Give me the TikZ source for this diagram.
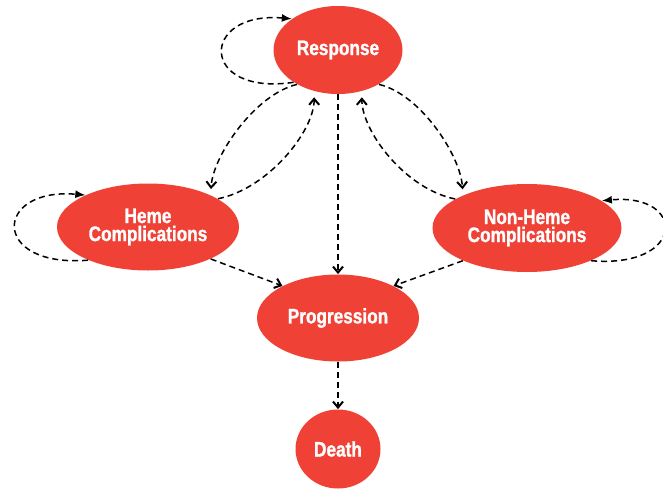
\documentclass[tikz,border=0pt]{standalone}
\usepackage{fontspec}
\usetikzlibrary{arrows.meta, shapes.geometric}
\newfontfamily\statefont[FakeStretch=0.82, BoldFeatures={FakeBold=1.2}]{Liberation Sans}
\definecolor{statered}{HTML}{EF4136}
\tikzset{
  state/.style={ellipse, fill=statered, text=white, inner sep=0pt, align=center,
                font=\statefont\bfseries\fontsize{10.5}{9}\selectfont},
  arr/.style={-{Straight Barb[length=3pt, width=5pt, line width=1pt]},
              line width=0.75pt, dash pattern=on 3pt off 2pt},
  selfarr/.style={-{Latex[length=5pt, width=4pt]},
                  line width=0.75pt, dash pattern=on 3pt off 2pt},
}

\begin{document}
\begin{tikzpicture}[x=0.5pt, y=0.5pt]
  \useasboundingbox (0,0) rectangle (663,489);

  \node[state, minimum width=64.5pt, minimum height=44pt] (resp) at (338,439) {Response};
  \node[state, minimum width=91pt, minimum height=43.5pt] (heme) at (148,262) {Heme\\Complications};
  \node[state, minimum width=94.5pt, minimum height=44pt] (nonheme) at (527,261) {Non-Heme\\Complications};
  \node[state, minimum width=81pt, minimum height=43.5pt] (prog) at (338,171) {Progression};
  \node[state, minimum width=42.5pt, minimum height=39.5pt] (death) at (338,40) {Death};

  % self loops
  \draw[selfarr] (resp.216) .. controls +(-95,-14) and +(-92,8) .. (resp.146);
  \draw[selfarr] (heme.209) .. controls +(-98,-8) and +(-92,8) .. (heme.153);
  \draw[selfarr] (nonheme.333) .. controls +(95,-8) and +(85,8) .. (nonheme.20);

  % transitions
  \draw[arr, shorten >=3pt] (resp.220) .. controls +(-42,-10) and +(2,39) .. (heme.27);
  \draw[arr, shorten >=3pt] (heme.22) .. controls +(50,10) and +(0,-40) .. (resp.240);
  \draw[arr, shorten >=3pt] (resp.320) .. controls +(42,-10) and +(-2,39) .. (nonheme.153);
  \draw[arr, shorten >=3pt] (nonheme.158) .. controls +(-50,10) and +(0,-40) .. (resp.300);
  \draw[arr] (resp.south) -- (prog.north);
  \draw[arr] (heme.333) -- (prog.150);
  \draw[arr] (nonheme.207) -- (prog.30);
  \draw[arr] (prog.south) -- (death.north);
\end{tikzpicture}
\end{document}
